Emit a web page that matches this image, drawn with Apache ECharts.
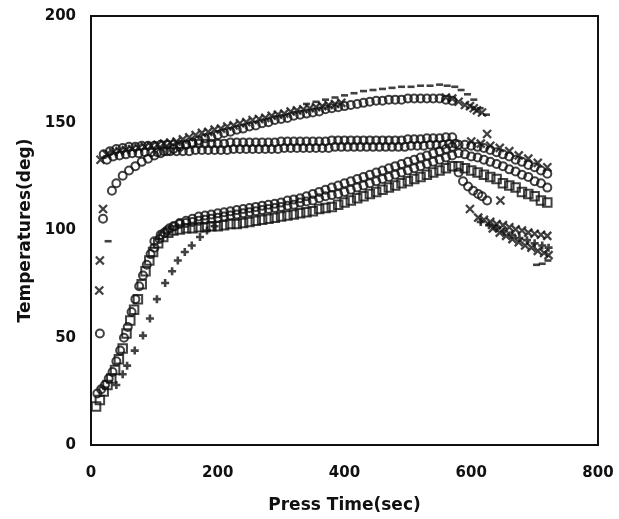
<!DOCTYPE html>
<html>
<head>
<meta charset="utf-8">
<script src="https://cdn.jsdelivr.net/npm/echarts/dist/echarts.min.js"></script>
<style>
html,body{margin:0;padding:0;background:#fff;}
#chart{width:619px;height:519px;}
</style>
</head>
<body>
<div id="chart"></div>
<script>
// ---- data (time in sec, temperature in deg) ----
const xTicks = [0, 200, 400, 600, 800];
const yTicks = [0, 50, 100, 150, 200];

// lower band: squares (lower edge, incl. early rise and decline after 575 s)
const sqTime = [8,14,20,26,32,38,44,50,56,62,68,74,80,86,92,98,106,114,122,130,140,150,160,170,180,190,200,210,220,230,240,250,260,270,280,290,300,310,320,330,340,350,360,370,380,390,400,410,420,430,440,450,460,470,480,490,500,510,520,530,540,550,560,570,580,590,600,610,620,630,640,650,660,670,680,690,700,710,720];
const sqTemp = [18,21,25,28,31,35,40,45,52,58,63,68,75,81,86,90,94,97,99,100,100.5,101,101,101.5,101.5,102,102,102.5,103,103,103.5,104,104.5,105,105.5,106,106.5,107,107.5,108,108.5,109,110,110.5,111,112,113,114,115,116,117,118,119,120,121,122,123,124,125,126,127,128,129,130,130,129,128,127,126,125,124,122,121,120,118,117,116,114,113];

// lower band: circles (middle row)
const c1Time = [10,16,22,28,34,40,46,52,58,64,70,76,82,88,94,100,108,116,124,132,140,150,160,170,180,190,200,210,220,230,240,250,260,270,280,290,300,310,320,330,340,350,360,370,380,390,400,410,420,430,440,450,460,470,480,490,500,510,520,530,540,550,560,570,580,590,600,610,620,630,640,650,660,670,680,690,700,710,720];
const c1Temp = [24,26,28,31,34,39,44,50,55,62,68,74,79,84,89,92,96,99,101,102,103,103.5,104,104.5,105,105.5,106,106.5,107,107.5,108,108.5,109,109.5,110,110.5,111,111.5,112,113,113.5,114,115,116,116.5,117,118,119,120,121,122,123,124,125,126,127,128,129,130,131,132,133,134,135,136,135.5,134.5,134,133,132,131,130,128.5,127.5,126,125,123,122,120];

// lower band: circles (upper row)
const c2Time = [100,110,120,130,140,150,160,170,180,190,200,210,220,230,240,250,260,270,280,290,300,310,320,330,340,350,360,370,380,390,400,410,420,430,440,450,460,470,480,490,500,510,520,530,540,550,560,570,580,590,600,610,620,630,640,650,660,670,680,690,700,710,720];
const c2Temp = [95,98,100,102,103.5,104.5,105.5,106.5,107,107.5,108,108.5,109,109.5,110,110.5,111,111.5,112,112.5,113,114,114.5,115,116,117,118,119,120,121,122,123,124,125,126,127,128,129,130,131,132,133,134,135,136,137,138,139,140,140,139.5,139,138.5,137.5,136.5,135.5,134.5,133,132,130.5,129.5,128,126.5];

// lagging "+" curve
const plusTime = [40,50,57,69,82,93,104,117,128,137,148,159,172,183,195];
const plusTemp = [28,33,37,44,51,59,68,75.5,81,86,90,93,97,100,102];

// flat band (two rows of circles)
const fbTimeA = [20,30,40,50,60,70,80,90,100,110,120,130,140,150,160,170,180,190,200,210,220,230,240,250,260,270,280,290,300,310,320,330,340,350,360,370,380,390,400,410,420,430,440,450,460,470,480,490,500,510,520,530,540,550,560,570];
const fbTempA = [135.5,137,138,138.5,139,139,139.5,139.5,139.5,140,140,140,140,140,140.5,140.5,140.5,140.5,140.5,140.5,141,141,141,141,141,141,141,141,141.5,141.5,141.5,141.5,141.5,141.5,141.5,141.5,142,142,142,142,142,142,142,142,142,142,142,142,142.5,142.5,142.5,143,143,143,143.5,143.5];
const fbTimeB = [25,35,45,55,65,75,85,95,105,115,125,135,145,155,165,175,185,195,205,215,225,235,245,255,265,275,285,295,305,315,325,335,345,355,365,375,385,395,405,415,425,435,445,455,465,475,485,495,505,515,525,535,545,555,565,575];
const fbTempB = [133,134.5,135,135.5,136,136,136.5,136.5,136.5,137,137,137,137,137,137.5,137.5,137.5,137.5,137.5,137.5,138,138,138,138,138,138,138,138,138.5,138.5,138.5,138.5,138.5,138.5,138.5,138.5,139,139,139,139,139,139,139,139,139,139,139,139,139.5,139.5,139.5,140,140,140,140.5,140.5];

// upper rising curve: circles
const uoTime = [33,40,50,60,70,80,90,100,110,120,130,140,150,160,170,180,190,200,210,220,230,240,250,260,270,280,290,300,310,320,330,340,350,360,370,380,390,400,410,420,430,440,450,460,470,480,490,500,510,520,530,540,550,560,570];
const uoTemp = [118.5,122,125.5,128,130,132,133.5,135,136,137,138,139,140,141,142,143,143.5,144.5,145.5,146,147,147.5,148.5,149,150,150.5,151.5,152,152.5,153.5,154,154.5,155,155.5,156.5,157,157.5,158,158.5,159,159.5,160,160.5,160.5,161,161,161,161.5,161.5,161.5,161.5,161.5,161.5,161,160.5];

// upper rising curve: crosses
const uxTime = [15,25,35,45,55,65,75,85,95,105,115,125,135,145,155,165,175,185,195,205,215,225,235,245,255,265,275,285,295,305,315,325,335,345,355,365,375,385,395,560,570,580,590,598,604,609,617];
const uxTemp = [133,135.5,136.5,137,137.5,138,138.5,139,139.5,140,140.5,141,141.5,142.5,143.5,144.5,145.5,146,147,147.5,148.5,149,150,150.5,151.5,152,152.5,153.5,154,154.5,155.5,156,156.5,157,157.5,158,158.5,159,159.5,162,161.5,160,158.5,158,157,156,155];

// upper dashes
const udTime = [340,355,370,385,400,415,430,445,460,475,490,505,520,535,550,562,574,584,594,604,614,624];
const udTemp = [159,160,161,162,163,164,165,165.5,166,166.5,167,167,167.5,167.5,168,167.5,167,165.5,163.5,161,157,154];

// crosses on top of the declining band
const uxrTime = [600,615,630,645,660,675,690,705,720];
const uxrTemp = [141.5,140.5,139.5,138.5,137,135,133.5,131.5,129.5];

// lower branch after 575 s
const loTime = [580,587,595,603,611,617,625];
const loTemp = [127,123,120.5,118.5,117,116,114];
const lx1Time = [598,611,620,630,640,650,660,670,680,690,700,710,720];
const lx1Temp = [110,106,105,104,103,102.5,101.5,100.5,100,99,98.5,98,97.5];
const lx2Time = [634,645,655,665,675,685,695,705,715,722];
const lx2Temp = [101,99,97.5,96,94.5,93,92,90.5,89.5,88.5];
const lpTime = [615,628,640,652,664,676,688,700,712,722];
const lpTemp = [104,102.5,101,99.5,98,96.5,95.5,94,93,92];
const ldTime = [703,712,721];
const ldTemp = [84,84.5,86];
const isoXTime = [625,646];
const isoXTemp = [145,114];

// scattered first samples near t = 0
const leftXTime = [13,14,19];
const leftXTemp = [72,86,110];
const leftOTime = [14,19];
const leftOTemp = [52,105.5];
const leftDashTime = [27];
const leftDashTemp = [95];

// ---- chart ----
function zip(t, v) { return t.map((x, i) => [x, v[i]]); }
const INK = '#111';
const hollow = {color: 'rgba(0,0,0,0)', borderColor: INK, borderWidth: 2};
const M = {
  circle: {symbol: 'circle', symbolSize: 8, itemStyle: hollow},
  square: {symbol: 'rect', symbolSize: 8.5, itemStyle: hollow},
  cross: {symbol: 'path://M0,0L10,10M10,0L0,10', symbolSize: 8, itemStyle: {color: 'rgba(0,0,0,0)', borderColor: INK, borderWidth: 2.3}},
  plus: {symbol: 'path://M5,0L5,10M0,5L10,5', symbolSize: 8, itemStyle: {color: 'rgba(0,0,0,0)', borderColor: INK, borderWidth: 2.6}},
  dash: {symbol: 'rect', symbolSize: [7, 2.6], itemStyle: {color: INK}}
};
function S(t, v, m) {
  return Object.assign({type: 'scatter', data: zip(t, v), silent: true, animation: false}, M[m]);
}

const chart = echarts.init(document.getElementById('chart'), null, {renderer: 'canvas'});
const labelStyle = {color: INK, fontFamily: 'DejaVu Sans', fontWeight: 'bold', fontSize: 15};
chart.setOption({
  backgroundColor: '#fff',
  animation: false,
  grid: {left: 91, right: 21, top: 16, bottom: 71, show: true, borderColor: INK, borderWidth: 2, backgroundColor: 'rgba(0,0,0,0)'},
  xAxis: {
    type: 'value', min: xTicks[0], max: xTicks[xTicks.length - 1], interval: 200,
    axisLine: {show: false}, axisTick: {show: false}, splitLine: {show: false},
    axisLabel: Object.assign({margin: 21}, labelStyle),
    name: 'Press Time(sec)', nameLocation: 'middle', nameGap: 52,
    nameTextStyle: {color: INK, fontFamily: 'DejaVu Sans', fontWeight: 'bold', fontSize: 17}
  },
  yAxis: {
    type: 'value', min: yTicks[0], max: yTicks[yTicks.length - 1], interval: 50,
    axisLine: {show: false}, axisTick: {show: false}, splitLine: {show: false},
    axisLabel: Object.assign({margin: 15}, labelStyle),
    name: 'Temperatures(deg)', nameLocation: 'middle', nameGap: 56, nameRotate: 90,
    nameTextStyle: {color: INK, fontFamily: 'DejaVu Sans', fontWeight: 'bold', fontSize: 17}
  },
  series: [
    S(sqTime, sqTemp, 'square'),
    S(c1Time, c1Temp, 'circle'),
    S(c2Time, c2Temp, 'circle'),
    S(plusTime, plusTemp, 'plus'),
    S(fbTimeA, fbTempA, 'circle'),
    S(fbTimeB, fbTempB, 'circle'),
    S(uoTime, uoTemp, 'circle'),
    S(uxTime, uxTemp, 'cross'),
    S(udTime, udTemp, 'dash'),
    S(uxrTime, uxrTemp, 'cross'),
    S(loTime, loTemp, 'circle'),
    S(lx1Time, lx1Temp, 'cross'),
    S(lx2Time, lx2Temp, 'cross'),
    S(lpTime, lpTemp, 'plus'),
    S(ldTime, ldTemp, 'dash'),
    S(isoXTime, isoXTemp, 'cross'),
    S(leftXTime, leftXTemp, 'cross'),
    S(leftOTime, leftOTemp, 'circle'),
    S(leftDashTime, leftDashTemp, 'dash')
  ]
});
</script>
</body>
</html>
